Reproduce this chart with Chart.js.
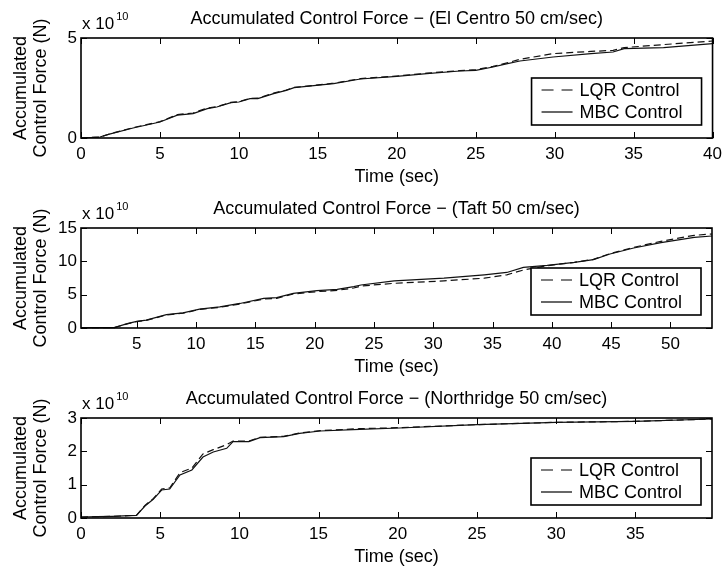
<!DOCTYPE html>
<html>
<head>
<meta charset="utf-8">
<script src="https://cdn.jsdelivr.net/npm/chart.js@4.4.1/dist/chart.umd.min.js"></script>
<style>
  html, body { margin: 0; padding: 0; background: #fff; overflow: hidden; }
  .panel { position: absolute; left: 0; width: 722px; height: 190px; }
</style>
</head>
<body>
<div class="panel" style="top:0"><canvas id="elcentro" width="722" height="190"></canvas></div>
<div class="panel" style="top:190px"><canvas id="taft" width="722" height="190"></canvas></div>
<div class="panel" style="top:380px"><canvas id="northridge" width="722" height="190"></canvas></div>
<script>
// values in units of 1e10 N, time in sec
const elTime = [0, 1.2, 1.8, 3.3, 5, 6.1, 7.1, 8, 8.6, 9.5, 10, 10.7, 11.2, 12.2, 13, 13.5, 14.9, 16, 17.7, 20, 21.9, 24, 25, 26.1, 26.8, 27.8, 29.9, 32.3, 33.7, 34.4, 36.9, 40];
const elMbc  = [0, 0.05, 0.19, 0.5, 0.8, 1.14, 1.22, 1.47, 1.55, 1.77, 1.8, 1.97, 1.97, 2.22, 2.38, 2.52, 2.63, 2.72, 2.95, 3.08, 3.22, 3.35, 3.38, 3.55, 3.68, 3.85, 4.05, 4.22, 4.3, 4.47, 4.52, 4.72];
const elLqr  = [0, 0.05, 0.2, 0.52, 0.82, 1.17, 1.25, 1.5, 1.57, 1.78, 1.82, 1.98, 1.99, 2.24, 2.4, 2.53, 2.64, 2.74, 2.97, 3.1, 3.24, 3.37, 3.42, 3.58, 3.72, 3.93, 4.22, 4.33, 4.38, 4.52, 4.67, 4.85];

const taftTime = [0.3, 1.5, 3.1, 4.2, 5, 5.8, 7.5, 8.9, 10.3, 12, 13.7, 15.7, 16.8, 18.2, 20.2, 21.9, 23.3, 23.9, 26.7, 30.9, 34.3, 36.2, 37.6, 39.6, 41.9, 43.5, 44.9, 46.9, 49.2, 52, 53.5, 54.2];
const taftMbc  = [0.05, 0.05, 0.06, 0.65, 1.0, 1.17, 2.0, 2.27, 2.83, 3.18, 3.68, 4.44, 4.55, 5.2, 5.6, 5.8, 6.2, 6.45, 7.07, 7.47, 7.98, 8.33, 9.1, 9.4, 9.85, 10.26, 11.1, 12.0, 12.8, 13.6, 13.8, 13.85];
const taftLqr  = [0.05, 0.05, 0.06, 0.62, 0.97, 1.15, 1.95, 2.22, 2.78, 3.1, 3.6, 4.35, 4.45, 5.1, 5.45, 5.65, 6.0, 6.3, 6.7, 7.07, 7.47, 7.98, 8.7, 9.35, 9.85, 10.3, 11.15, 12.1, 13.0, 13.9, 14.1, 14.15];

const nrTime = [0, 1, 2, 3, 3.5, 4.04, 4.56, 5.09, 5.6, 6.25, 7.0, 7.7, 8.35, 9.2, 9.6, 10.6, 11.3, 12.8, 13.8, 15.1, 17.6, 20.1, 25, 30, 35, 39.84];
const nrMbc  = [0.03, 0.04, 0.05, 0.07, 0.08, 0.36, 0.56, 0.84, 0.87, 1.29, 1.44, 1.83, 1.98, 2.09, 2.29, 2.29, 2.41, 2.44, 2.54, 2.61, 2.66, 2.7, 2.8, 2.87, 2.9, 2.97];
const nrLqr  = [0.03, 0.04, 0.05, 0.07, 0.08, 0.38, 0.58, 0.87, 0.9, 1.36, 1.5, 1.92, 2.05, 2.2, 2.31, 2.31, 2.42, 2.45, 2.55, 2.62, 2.68, 2.71, 2.8, 2.87, 2.9, 2.97];

const seriesNames = ['LQR Control', 'MBC Control'];
const FONT = '"Liberation Sans", Arial, Helvetica, sans-serif';

Chart.defaults.color = '#000';
Chart.defaults.font.family = FONT;
Chart.defaults.font.size = 17;

// matlab style box, inward ticks, title, exponent and legend
const frame = {
  id: 'frame',
  afterDraw(chart, args, opts) {
    const ctx = chart.ctx;
    const a = chart.chartArea;
    const x = chart.scales.x, y = chart.scales.y;
    ctx.save();
    ctx.strokeStyle = '#000';
    ctx.lineWidth = 1;
    ctx.beginPath();
    x.ticks.forEach(t => {
      const px = Math.round(x.getPixelForValue(t.value)) + 0.5;
      ctx.moveTo(px, a.bottom); ctx.lineTo(px, a.bottom - 6);
      ctx.moveTo(px, a.top); ctx.lineTo(px, a.top + 6);
    });
    y.ticks.forEach(t => {
      const py = Math.round(y.getPixelForValue(t.value)) + 0.5;
      ctx.moveTo(a.left, py); ctx.lineTo(a.left + 6, py);
      ctx.moveTo(a.right, py); ctx.lineTo(a.right - 6, py);
    });
    ctx.stroke();
    ctx.lineWidth = 1.6;
    ctx.strokeRect(a.left, a.top, a.right - a.left, a.bottom - a.top);

    ctx.fillStyle = '#000';
    ctx.font = '18px ' + FONT;
    ctx.textAlign = 'center';
    ctx.textBaseline = 'alphabetic';
    ctx.fillText(opts.title, (a.left + a.right) / 2, 24);

    ctx.textAlign = 'left';
    ctx.font = '17px ' + FONT;
    ctx.fillText('x 10', a.left + 1, 29);
    const w = ctx.measureText('x 10').width;
    ctx.font = '11px ' + FONT;
    ctx.fillText('10', a.left + 1 + w + 2, 20);

    // legend
    const bw = 170, bh = 47;
    const bx = a.right - 11 - bw, by = a.bottom - 13 - bh;
    ctx.fillStyle = '#fff';
    ctx.fillRect(bx, by, bw, bh);
    ctx.lineWidth = 1.6;
    ctx.strokeRect(bx, by, bw, bh);
    ctx.font = '18px ' + FONT;
    ctx.textBaseline = 'middle';
    chart.data.datasets.forEach((ds, i) => {
      const ry = by + 12 + i * 22;
      ctx.beginPath();
      ctx.lineWidth = 1.2;
      ctx.setLineDash(ds.borderDash ? [12, 8] : []);
      ctx.moveTo(bx + 10, ry); ctx.lineTo(bx + 41, ry);
      ctx.stroke();
      ctx.setLineDash([]);
      ctx.fillStyle = '#000';
      ctx.fillText(ds.label, bx + 48, ry + 1);
    });
    ctx.restore();
  }
};

function makeChart(id, title, time, lqr, mbc, xr, yr, padRight) {
  const pts = arr => arr.map((v, i) => ({ x: time[i], y: v }));
  return new Chart(document.getElementById(id), {
    type: 'line',
    data: {
      datasets: [
        { label: seriesNames[0], data: pts(lqr), borderColor: '#111', borderWidth: 1.2, borderDash: [7, 4], pointRadius: 0, tension: 0, clip: false },
        { label: seriesNames[1], data: pts(mbc), borderColor: '#111', borderWidth: 1.2, pointRadius: 0, tension: 0, clip: false }
      ]
    },
    options: {
      responsive: false,
      animation: false,
      layout: { padding: { top: 38, left: 0, right: padRight, bottom: 0 } },
      scales: {
        x: {
          type: 'linear', min: xr[0], max: xr[1],
          // tick marks are drawn by the frame plugin; tickLength only spaces the labels
          grid: { display: false, drawTicks: true, tickLength: 6 },
          border: { display: false },
          ticks: { stepSize: 5, includeBounds: false, padding: 0, maxRotation: 0 },
          title: { display: true, text: 'Time (sec)', font: { size: 18 }, padding: { top: 0, bottom: 2 } },
          afterFit(s) { s.height = 52; }
        },
        y: {
          min: yr[0], max: yr[1],
          grid: { display: false, drawTicks: false },
          border: { display: false },
          ticks: { stepSize: yr[2], padding: 4 },
          title: { display: true, text: ['Accumulated', 'Control Force (N)'], font: { size: 18, lineHeight: 1.11 }, padding: { top: 11, bottom: 0 } },
          afterFit(s) { s.width = 81; }
        }
      },
      plugins: {
        legend: { display: false },
        tooltip: { enabled: false },
        frame: { title: title }
      }
    },
    plugins: [frame]
  });
}

makeChart('elcentro', 'Accumulated Control Force \u2212 (El Centro 50 cm/sec)', elTime, elLqr, elMbc, [0, 40], [0, 5, 5], 0);
makeChart('taft', 'Accumulated Control Force \u2212 (Taft 50 cm/sec)', taftTime, taftLqr, taftMbc, [0.3, 53.5], [0, 15, 5], 10);
makeChart('northridge', 'Accumulated Control Force \u2212 (Northridge 50 cm/sec)', nrTime, nrLqr, nrMbc, [0, 39.84], [0, 3, 1], 10);
</script>
</body>
</html>
